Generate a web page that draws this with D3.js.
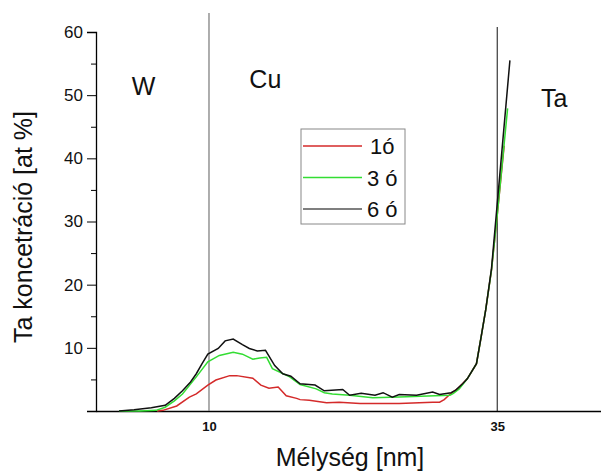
<!DOCTYPE html>
<html>
<head>
<meta charset="utf-8">
<script src="https://cdn.jsdelivr.net/npm/d3@7"></script>
<style>
  body { margin: 0; background: #fff; }
  svg { font-family: "Liberation Sans", Arial, sans-serif; }
</style>
</head>
<body>
<div id="chart"></div>
<script>
// Data: depth [nm] / Ta concentration [at %]
var depth1 = [5.5, 6.0, 7.2, 8.3, 8.9, 9.9, 10.6, 11.8, 12.4, 13.8, 14.5, 15.2, 16.0, 16.7, 17.6, 17.9, 18.7, 20.2, 21.3, 23.1, 26.5, 29.4, 30.0, 30.4, 31.0, 31.6, 32.4, 33.2, 33.6, 34.0, 34.5, 35.0, 35.6];
var conc1  = [0, 0.1, 0.8, 2.2, 2.7, 4.1, 4.9, 5.6, 5.6, 5.2, 4.1, 3.6, 3.8, 2.4, 2.0, 1.8, 1.7, 1.3, 1.4, 1.2, 1.2, 1.4, 1.4, 1.8, 2.8, 3.6, 5.1, 7.5, 11.7, 16.0, 22.3, 31.0, 42.0];

var depth3 = [2.2, 4.0, 5.4, 6.2, 7.0, 7.7, 8.9, 9.9, 10.9, 12.1, 12.9, 13.8, 14.4, 15.0, 15.5, 17.0, 17.9, 19.3, 20.0, 20.7, 22.2, 24.2, 26.5, 29.6, 30.9, 31.2, 31.7, 32.4, 33.2, 33.6, 34.0, 34.5, 35.0, 35.9];
var conc3  = [0, 0, 0.1, 0.6, 1.6, 2.7, 5.4, 7.8, 8.8, 9.3, 9.0, 8.2, 8.4, 8.5, 6.7, 5.4, 4.2, 3.5, 2.9, 2.7, 2.5, 2.1, 2.2, 2.4, 2.5, 2.8, 3.5, 5.1, 7.5, 11.7, 16.0, 22.3, 31.0, 47.9];

var depth6 = [2.2, 3.5, 5.0, 6.2, 7.0, 7.7, 8.4, 8.9, 9.4, 9.9, 10.8, 11.4, 12.1, 12.9, 13.5, 14.2, 14.9, 15.7, 16.4, 17.1, 17.9, 19.2, 20.0, 21.6, 22.2, 23.2, 24.4, 25.1, 25.9, 26.5, 28.0, 29.4, 30.0, 31.0, 31.4, 32.0, 32.4, 33.2, 33.6, 34.0, 34.5, 35.3, 36.1];
var conc6  = [0, 0.2, 0.5, 0.9, 2.0, 3.2, 4.6, 5.9, 7.5, 9.0, 9.9, 11.1, 11.4, 10.5, 9.9, 9.5, 9.6, 7.2, 5.9, 5.5, 4.3, 4.1, 3.2, 3.4, 2.5, 2.8, 2.5, 2.9, 2.2, 2.6, 2.5, 3.0, 2.6, 2.9, 3.3, 4.3, 5.1, 7.5, 11.7, 16.0, 22.5, 39.0, 55.5];

var seriesNames = ["1ó", "3 ó", "6 ó"];
var seriesColors = ["#d42a2a", "#33dd33", "#111111"];

var yTicks = [10, 20, 30, 40, 50, 60];
var yMinorTicks = [5, 15, 25, 35, 45, 55];
var xTicks = [10, 35];
var regions = [{name: "W", x: 3.3, y: 50}, {name: "Cu", x: 13.5, y: 51.2}, {name: "Ta", x: 38.8, y: 48.2}];

var svgWidth = 601;
var svgHeight = 474;

var margin = {top: 32, right: 0, bottom: 63, left: 96};
var width = svgWidth - margin.left - margin.right;
var height = svgHeight - margin.top - margin.bottom;

var svg = d3.select("#chart")
  .append("svg")
  .attr("width", svgWidth)
  .attr("height", svgHeight);

var chartGroup = svg.append("g")
  .attr("transform", `translate(${margin.left}, ${margin.top})`);

// scales
var xLinearScale = d3.scaleLinear()
  .domain([0.2, 44])
  .range([0, width]);

var yLinearScale = d3.scaleLinear()
  .domain([0, 60])
  .range([height, 0]);

// left axis, major + minor ticks
var leftAxis = d3.axisLeft(yLinearScale)
  .tickValues(yTicks)
  .tickSize(9)
  .tickPadding(4);

var yAxis = chartGroup.append("g").call(leftAxis);
yAxis.select(".domain").attr("stroke", "#000").attr("stroke-width", 1.3);
yAxis.selectAll("text")
  .style("font-size", "17px")
  .attr("fill", "#111");

chartGroup.append("g")
  .call(d3.axisLeft(yLinearScale).tickValues(yMinorTicks).tickSize(5).tickFormat(""))
  .select(".domain").remove();

// bottom axis
var bottomAxis = d3.axisBottom(xLinearScale)
  .tickValues(xTicks)
  .tickSize(0)
  .tickPadding(11);

var xAxis = chartGroup.append("g")
  .attr("transform", `translate(0, ${height})`)
  .call(bottomAxis);
xAxis.select(".domain").attr("stroke", "#000").attr("stroke-width", 1.5);
xAxis.selectAll("text")
  .style("font-size", "13px")
  .style("font-weight", "bold")
  .attr("fill", "#111");

// interface lines
chartGroup.append("line")
  .attr("x1", xLinearScale(10)).attr("x2", xLinearScale(10))
  .attr("y1", 13 - margin.top).attr("y2", height)
  .attr("stroke", "#777")
  .attr("stroke-width", 1.2);

chartGroup.append("line")
  .attr("x1", xLinearScale(35)).attr("x2", xLinearScale(35))
  .attr("y1", 27 - margin.top).attr("y2", height)
  .attr("stroke", "#111")
  .attr("stroke-width", 1);

// curves
var line = d3.line()
  .x(d => xLinearScale(d[0]))
  .y(d => yLinearScale(d[1]));

var allSeries = [d3.zip(depth1, conc1), d3.zip(depth3, conc3), d3.zip(depth6, conc6)];

chartGroup.selectAll(".curve")
  .data(allSeries)
  .enter()
  .append("path")
  .attr("class", "curve")
  .attr("d", line)
  .attr("fill", "none")
  .attr("stroke", (d, i) => seriesColors[i])
  .attr("stroke-width", 1.5);

// region labels
chartGroup.selectAll(".region")
  .data(regions)
  .enter()
  .append("text")
  .attr("x", d => xLinearScale(d.x))
  .attr("y", d => yLinearScale(d.y))
  .style("font-size", "25px")
  .attr("fill", "#111")
  .text(d => d.name);

// legend
var legend = svg.append("g").attr("transform", "translate(301, 129)");
legend.append("rect")
  .attr("width", 104)
  .attr("height", 95)
  .attr("fill", "#fff")
  .attr("stroke", "#888")
  .attr("stroke-width", 1);

seriesNames.forEach(function(name, i) {
  var ly = 17 + i * 31.5;
  legend.append("line")
    .attr("x1", 2).attr("x2", 61)
    .attr("y1", ly).attr("y2", ly)
    .attr("stroke", seriesColors[i] === "#111111" ? "#555" : seriesColors[i])
    .attr("stroke-width", 1.6);
  legend.append("text")
    .attr("x", i === 0 ? 69 : 66)
    .attr("y", ly + 8)
    .style("font-size", "22px")
    .attr("fill", "#111")
    .text(name);
});

// axis labels
svg.append("text")
  .attr("transform", "rotate(-90)")
  .attr("x", -227)
  .attr("y", 32)
  .attr("text-anchor", "middle")
  .style("font-size", "25px")
  .attr("fill", "#111")
  .text("Ta koncetráció [at %]");

svg.append("text")
  .attr("x", 350)
  .attr("y", 466)
  .attr("text-anchor", "middle")
  .style("font-size", "25px")
  .attr("fill", "#111")
  .text("Mélység [nm]");
</script>
</body>
</html>
